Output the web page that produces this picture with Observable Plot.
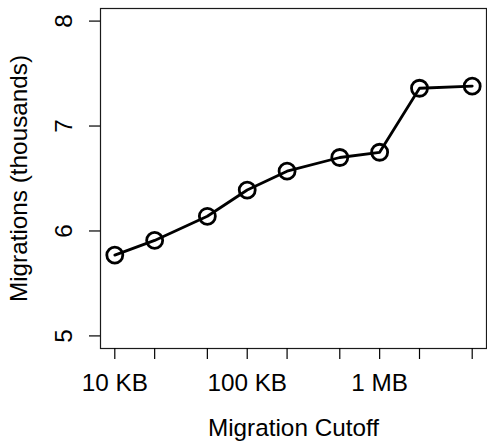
<!DOCTYPE html>
<html>
<head>
<meta charset="utf-8">
<script src="https://cdn.jsdelivr.net/npm/d3@7"></script>
<script src="https://cdn.jsdelivr.net/npm/@observablehq/plot@0.6"></script>
<style>
  html, body { margin: 0; padding: 0; background: #fff; }
  #chart svg { display: block; }
</style>
</head>
<body>
<div id="chart"></div>
<script>
// Migration cutoff sizes (KB) and migrations (thousands)
const cutoffKB = [10, 20, 50, 100, 200, 500, 1000, 2000, 5000];
const migrations = [5.77, 5.91, 6.14, 6.39, 6.57, 6.70, 6.75, 7.36, 7.38];

// Axis ticks and their labels
const xTicks = [10, 20, 50, 100, 200, 500, 1000, 2000, 5000];
const xTickLabels = ["10 KB", "", "", "100 KB", "", "", "1 MB", "", ""];
const yTicks = [5, 6, 7, 8];
const yTickLabels = ["5", "6", "7", "8"];

const xTitle = "Migration Cutoff";
const yTitle = "Migrations (thousands)";

const data = cutoffKB.map((c, i) => ({cutoff: c, value: migrations[i]}));
const xLabelOf = new Map(xTicks.map((t, i) => [t, xTickLabels[i]]));
const yTickData = yTicks.map((t, i) => ({y: t, label: yTickLabels[i]}));

// Pad the log-x and linear-y ranges by 4% on each side
const lx0 = Math.log10(d3.min(cutoffKB)), lx1 = Math.log10(d3.max(cutoffKB));
const padX = (lx1 - lx0) * 0.04;
const yMin = 5, yMax = 8, padY = (yMax - yMin) * 0.04;

const font = "'Liberation Sans', Arial, Helvetica, sans-serif";
const fs = 24.3;

const chart = Plot.plot({
  width: 487,
  height: 445,
  marginLeft: 100,
  marginRight: 1,
  marginTop: 8,
  marginBottom: 97,
  style: {fontFamily: font, fontSize: fs + "px", color: "#000", background: "#fff"},
  x: {type: "log", domain: [10 ** (lx0 - padX), 10 ** (lx1 + padX)]},
  y: {domain: [yMin - padY, yMax + padY]},
  marks: [
    Plot.frame({stroke: "#1a1a1a", strokeWidth: 1.2}),
    Plot.axisX(xTicks, {
      tickSize: 11, tickPadding: 14, strokeWidth: 1.2,
      tickFormat: d => xLabelOf.get(d), fontSize: fs, label: null
    }),
    Plot.axisY(yTicks, {
      tickSize: 11, strokeWidth: 1.2, tickFormat: () => "", label: null
    }),
    Plot.text(yTickData, {
      y: "y", text: "label", frameAnchor: "left", dx: -36.5,
      rotate: -90, textAnchor: "middle", lineAnchor: "middle", fontSize: fs
    }),
    Plot.text([xTitle], {
      frameAnchor: "bottom", dy: 79.5, textAnchor: "middle",
      lineAnchor: "middle", fontSize: fs
    }),
    Plot.text([yTitle], {
      frameAnchor: "left", dx: -81.5, rotate: -90, textAnchor: "middle",
      lineAnchor: "middle", fontSize: fs
    }),
    Plot.line(data, {x: "cutoff", y: "value", stroke: "#000", strokeWidth: 2.8}),
    Plot.dot(data, {x: "cutoff", y: "value", r: 8, stroke: "#000", strokeWidth: 2.8, fill: "none"})
  ]
});

document.getElementById("chart").appendChild(chart);
</script>
</body>
</html>
